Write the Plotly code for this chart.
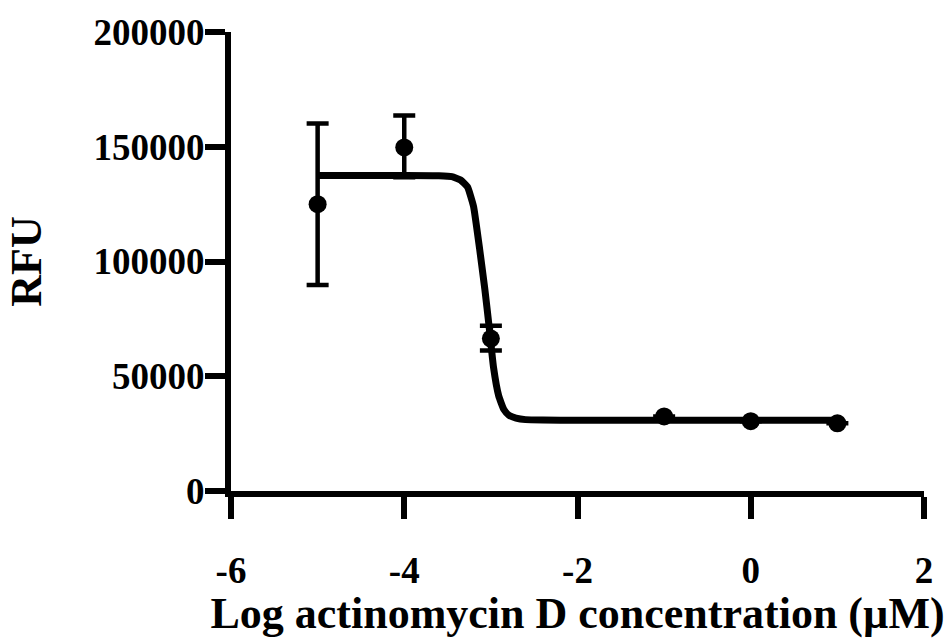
import plotly.graph_objects as go

# Measured data points
log_conc = [-5, -4, -3, -1, 0, 1]
rfu = [125000, 149700, 66400, 32500, 30400, 29500]
err_plus = [35100, 13900, 5600, None, None, None]
err_minus = [35200, 13000, 5200, None, None, None]

# Fitted curve
curve_x = [-5, -4, -3.6, -3.45, -3.35, -3.27, -3.20, -3.13, -3.07, -3.02,
           -2.97, -2.91, -2.85, -2.79, -2.71, -2.6, -2.4, -2, -1, 0, 1]
curve_y = [137500, 137500, 137400, 137000, 135500, 132500, 124000, 105500,
           88000, 71500, 54000, 41500, 35500, 33000, 31800, 31100, 30900,
           30800, 30800, 30800, 30800]

x_ticks = [-6, -4, -2, 0, 2]
y_ticks = [0, 50000, 100000, 150000, 200000]

FONT = "Liberation Serif"

fig = go.Figure()
fig.add_trace(go.Scatter(
    x=curve_x, y=curve_y, mode="lines",
    line=dict(color="black", width=7, shape="spline", smoothing=0.4),
    hoverinfo="skip", showlegend=False))
fig.add_trace(go.Scatter(
    x=log_conc, y=rfu, mode="markers",
    marker=dict(color="black", size=18),
    error_y=dict(type="data", array=err_plus, arrayminus=err_minus,
                 symmetric=False, color="black", thickness=4.5, width=11),
    showlegend=False))

fig.update_layout(
    width=946, height=638,
    margin=dict(l=231, r=22, t=32, b=147),
    paper_bgcolor="white", plot_bgcolor="white",
    font=dict(family=FONT, color="black"),
)
fig.update_xaxes(
    range=[-6, 2], tickvals=x_ticks, ticktext=[str(v) for v in x_ticks],
    showline=True, linecolor="black", linewidth=6,
    ticks="outside", ticklen=22, tickwidth=6, tickcolor="black",
    showgrid=False, zeroline=False, automargin=False,
    ticklabelstandoff=20,
    tickfont=dict(family=FONT, size=37, weight="bold"),
    title=dict(text="Log actinomycin D concentration (µM)",
               font=dict(family=FONT, size=44, weight="bold"), standoff=32),
)
fig.update_yaxes(
    range=[0, 200000], tickvals=y_ticks, ticktext=[str(v) for v in y_ticks],
    showline=True, linecolor="black", linewidth=6,
    ticks="outside", ticklen=20, tickwidth=6, tickcolor="black",
    showgrid=False, zeroline=False, automargin=False,
    ticklabelstandoff=-7,
    tickfont=dict(family=FONT, size=37, weight="bold"),
    title=dict(text="RFU", font=dict(family=FONT, size=44, weight="bold"),
               standoff=40),
)

fig.write_html("out.html")
